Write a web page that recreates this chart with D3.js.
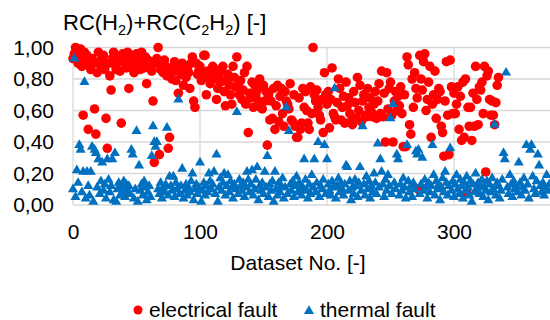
<!DOCTYPE html>
<html>
<head>
<meta charset="utf-8">
<script src="https://cdn.jsdelivr.net/npm/d3@7"></script>
<style>
  html, body { margin: 0; padding: 0; background: #fff; }
  svg { display: block; font-family: "Liberation Sans", Arial, sans-serif; }
</style>
</head>
<body>
<svg id="chart" width="550" height="320"></svg>
<script>
// RC(H2)+RC(C2H2) per dataset, electrical faults (index = dataset no.)
const electrical = [
  0.93, 0.96, 1.00, 0.98, 0.90, 0.94, 0.99, 0.88, 0.57, 0.97,
  0.92, 0.95, 0.48, 0.89, 0.86, 0.93, 0.90, 0.61, 0.45, 0.84,
  0.97, 0.91, 0.88, 0.94, 0.95, 0.86, 0.55, 0.36, 0.90, 0.82,
  0.73, 0.93, 0.97, 0.89, 0.86, 0.94, 0.91, 0.85, 0.52, 0.96,
  0.93, 0.90, 0.87, 0.97, 0.74, 0.92, 0.88, 0.95, 0.84, 0.91,
  0.96, 0.89, 0.93, 0.86, 0.97, 0.90, 0.87, 0.94, 0.77, 0.92,
  0.88, 0.91, 0.85, 0.66, 0.27, 0.90, 0.93, 1.00, 0.32, 0.86,
  0.89, 0.84, 0.92, 0.88, 0.82, 0.36, 0.43, 0.87, 0.80, 0.85,
  0.91, 0.79, 0.86, 0.71, 0.89, 0.83, 0.90, 0.76, 0.87, 0.81,
  0.86, 0.84, 0.74, 0.90, 0.94, 0.66, 0.62, 0.90, 0.83, 0.85,
  0.88, 0.79, 0.84, 0.95, 0.95, 0.70, 0.85, 0.81, 0.77, 0.83,
  0.88, 0.80, 0.86, 0.67, 0.74, 0.82, 0.78, 0.85, 0.88, 0.72,
  0.63, 0.79, 0.83, 0.76, 0.70, 0.64, 0.88, 0.81, 0.75, 0.94,
  0.75, 0.70, 0.79, 0.67, 0.73, 0.84, 0.64, 0.88, 0.46, 0.71,
  0.68, 0.78, 0.62, 0.76, 0.70, 0.73, 0.66, 0.80, 0.62, 0.61,
  0.76, 0.66, 0.72, 0.38, 0.70, 0.54, 0.66, 0.55, 0.74, 0.48,
  0.63, 0.76, 0.53, 0.69, 0.74, 0.58, 0.50, 0.72, 0.66, 0.64,
  0.61, 0.77, 0.54, 0.53, 0.70, 0.50, 0.43, 0.43, 0.68, 0.48,
  0.52, 0.74, 0.62, 0.72, 0.60, 0.52, 0.48, 0.75, 0.58, 1.00,
  0.70, 0.66, 0.73, 0.62, 0.57, 0.54, 0.67, 0.46, 0.84, 0.70,
  0.64, 0.72, 0.49, 0.67, 0.87, 0.58, 0.56, 0.54, 0.65, 0.80,
  0.74, 0.54, 0.62, 0.69, 0.52, 0.78, 0.63, 0.68, 0.58, 0.53,
  0.51, 0.72, 0.65, 0.55, 0.81, 0.60, 0.76, 0.53, 0.66, 0.70,
  0.57, 0.56, 0.74, 0.62, 0.68, 0.59, 0.56, 0.64, 0.72, 0.55,
  0.66, 0.77, 0.58, 0.85, 0.56, 0.71, 0.40, 0.84, 0.61, 0.74,
  0.78, 0.57, 0.40, 0.66, 0.72, 0.60, 0.69, 0.63, 0.75, 0.58,
  0.37, 0.70, 0.37, 0.94, 0.89, 0.51, 0.45, 0.80, 0.62, 0.84,
  0.74, 0.68, 0.10, 0.95, 0.80, 0.73, 0.91, 0.96, 0.60, 0.67,
  0.78, 0.88, 0.43, 0.64, 0.70, 0.85, 0.55, 0.67, 0.74, 0.72,
  0.50, 0.46, 0.31, 0.66, 0.91, 0.57, 0.32, 0.92, 0.75, 0.58,
  0.71, 0.58, 0.64, 0.75, 0.48, 0.69, 0.41, 0.78, 0.43, 0.80,
  0.08, 0.62, 0.50, 0.62, 0.41, 0.71, 0.50, 0.88, 0.67, 0.51,
  0.75, 0.73, 0.78, 0.58, 0.88, 0.21, 0.82, 0.85, 0.67, 0.57,
  0.66, 0.57, 0.51, 0.65, 0.76, 0.81
];

// thermal faults
const thermal = [
  0.10, 0.93, 0.05, 0.22, 0.14, 0.38, 0.35, 0.08, 0.21, 0.78,
  0.04, 0.21, 0.12, 0.06, 0.21, 0.37, 0.02, 0.35, 0.33, 0.11,
  0.29, 0.07, 0.15, 0.27, 0.09, 0.13, 0.04, 0.29, 0.16, 0.08,
  0.12, 0.29, 0.03, 0.33, 0.02, 0.10, 0.14, 0.06, 0.11, 0.08,
  0.15, 0.05, 0.13, 0.09, 0.12, 0.07, 0.35, 0.32, 0.04, 0.10,
  0.47, 0.02, 0.25, 0.09, 0.13, 0.06, 0.15, 0.11, 0.03, 0.08,
  0.12, 0.05, 0.31, 0.50, 0.40, 0.37, 0.40, 0.10, 0.07, 0.14,
  0.04, 0.11, 0.08, 0.13, 0.49, 0.06, 0.18, 0.12, 0.09, 0.18,
  0.05, 0.14, 0.10, 0.67, 0.07, 0.12, 0.23, 0.04, 0.09, 0.13,
  0.06, 0.11, 0.08, 0.15, 0.20, 0.03, 0.10, 0.13, 0.07, 0.11,
  0.27, 0.02, 0.09, 0.14, 0.06, 0.12, 0.08, 0.20, 0.15, 0.10,
  0.13, 0.21, 0.07, 0.32, 0.02, 0.11, 0.17, 0.09, 0.14, 0.20,
  0.06, 0.12, 0.19, 0.08, 0.15, 0.11, 0.04, 0.13, 0.10, 0.59,
  0.07, 0.16, 0.12, 0.09, 0.14, 0.05, 0.11, 0.21, 0.16, 0.08,
  0.13, 0.22, 0.06, 0.10, 0.16, 0.24, 0.03, 0.12, 0.09, 0.14,
  0.07, 0.21, 0.11, 0.31, 0.05, 0.13, 0.09, 0.15, 0.02, 0.21,
  0.10, 0.06, 0.14, 0.08, 0.12, 0.17, 0.04, 0.11, 0.62, 0.07,
  0.47, 0.13, 0.09, 0.15, 0.05, 0.12, 0.18, 0.08, 0.14, 0.10,
  0.06, 0.11, 0.29, 0.16, 0.09, 0.04, 0.13, 0.07, 0.19, 0.11,
  0.29, 0.08, 0.14, 0.40, 0.05, 0.12, 0.10, 0.16, 0.38, 0.07,
  0.29, 0.13, 0.09, 0.06, 0.15, 0.11, 0.74, 0.04, 0.12, 0.17,
  0.08, 0.14, 0.10, 0.06, 0.13, 0.25, 0.24, 0.09, 0.15, 0.03,
  0.11, 0.07, 0.16, 0.12, 0.05, 0.14, 0.24, 0.09, 0.50, 0.13,
  0.06, 0.18, 0.10, 0.15, 0.04, 0.12, 0.08, 0.20, 0.14, 0.07,
  0.39, 0.11, 0.29, 0.21, 0.13, 0.05, 0.16, 0.09, 0.19, 0.12,
  0.55, 0.07, 0.64, 0.14, 0.10, 0.32, 0.29, 0.06, 0.13, 0.09,
  0.17, 0.11, 0.04, 0.38, 0.15, 0.08, 0.12, 0.05, 0.14, 0.10,
  0.34, 0.32, 0.35, 0.07, 0.13, 0.30, 0.09, 0.16, 0.11, 0.04,
  0.14, 0.08, 0.12, 0.38, 0.19, 0.06, 0.15, 0.10, 0.13, 0.03,
  0.11, 0.17, 0.08, 0.21, 0.14, 0.06, 0.12, 0.36, 0.09, 0.15,
  0.05, 0.13, 0.19, 0.10, 0.07, 0.16, 0.12, 0.04, 0.14, 0.09,
  0.18, 0.11, 0.06, 0.15, 0.02, 0.13, 0.08, 0.20, 0.10, 0.14,
  0.07, 0.12, 0.16, 0.05, 0.11, 0.09, 0.15, 0.03, 0.13, 0.08,
  0.17, 0.10, 0.51, 0.06, 0.14, 0.12, 0.04, 0.09, 0.16, 0.33,
  0.29, 0.84, 0.11, 0.07, 0.19, 0.13, 0.05, 0.15, 0.10, 0.12,
  0.08, 0.27, 0.14, 0.06, 0.11, 0.17, 0.09, 0.38, 0.13, 0.04,
  0.35, 0.38, 0.18, 0.10, 0.07, 0.15, 0.32, 0.25, 0.12, 0.08,
  0.14, 0.06, 0.11, 0.19, 0.09, 0.13
];

const xTicks = [0, 100, 200, 300, 400];
const yTicks = [0, 0.2, 0.4, 0.6, 0.8, 1.0];
const seriesNames = ["electrical fault", "thermal fault"];
const seriesColors = ["#FF0000", "#0070C0"];

const svg = d3.select("#chart");
const W = 550, H = 320;
const grid = { top: 47.5, left: 73, bottom: 205 };

// plot runs off the right edge of the picture, so 400 sits outside
const x = d3.scaleLinear().domain([0, 400]).range([grid.left, grid.left + 508]);
const y = d3.scaleLinear().domain([0, 1]).range([grid.bottom, grid.top]);

const comma = d3.formatLocale({ decimal: ",", thousands: ".", grouping: [3], currency: ["", ""] }).format(".2f");

// gridlines
svg.append("g").selectAll("line.h")
  .data(yTicks).enter().append("line")
  .attr("x1", grid.left).attr("x2", W)
  .attr("y1", d => y(d)).attr("y2", d => y(d))
  .attr("stroke", "#D9D9D9").attr("stroke-width", 1.3);

svg.append("g").selectAll("line.v")
  .data(xTicks).enter().append("line")
  .attr("x1", d => x(d)).attr("x2", d => x(d))
  .attr("y1", grid.top).attr("y2", grid.bottom)
  .attr("stroke", "#D9D9D9").attr("stroke-width", 1.3);

// axes, only the labels are shown
const yAxis = d3.axisLeft(y).tickValues(yTicks).tickSize(0).tickPadding(19).tickFormat(comma);
svg.append("g")
  .attr("transform", `translate(${grid.left},0)`)
  .call(yAxis)
  .call(g => g.select(".domain").remove())
  .selectAll("text")
  .attr("font-size", 21).attr("fill", "#000").attr("font-family", "Liberation Sans, Arial, sans-serif");

const xAxis = d3.axisBottom(x).tickValues(xTicks.slice(0, 4)).tickSize(0).tickPadding(19);
svg.append("g")
  .attr("transform", `translate(0,${grid.bottom})`)
  .call(xAxis)
  .call(g => g.select(".domain").remove())
  .selectAll("text")
  .attr("font-size", 21).attr("fill", "#000").attr("font-family", "Liberation Sans, Arial, sans-serif");

// points
svg.append("g").selectAll("circle")
  .data(electrical).enter().append("circle")
  .attr("cx", (d, i) => x(i))
  .attr("cy", d => y(d))
  .attr("r", 4.8)
  .attr("fill", seriesColors[0]);

const tri = d3.symbol().type(d3.symbolTriangle).size(44);
svg.append("g").selectAll("path")
  .data(thermal).enter().append("path")
  .attr("d", tri)
  .attr("transform", (d, i) => `translate(${x(i)},${y(d)})`)
  .attr("fill", seriesColors[1]);

// title with subscripts
const title = svg.append("text")
  .attr("x", 63).attr("y", 30)
  .attr("font-size", 22).attr("fill", "#000");
const parts = [["RC(H", 0], ["2", 1], [")+RC(C", 0], ["2", 1], ["H", 0], ["2", 1], [") [-]", 0]];
let shifted = false;
parts.forEach(([t, sub]) => {
  const ts = title.append("tspan").text(t);
  if (sub) { ts.attr("font-size", 14.5).attr("dy", shifted ? 0 : 5); shifted = true; }
  else if (shifted) { ts.attr("dy", -5); shifted = false; }
});

svg.append("text")
  .attr("x", 298).attr("y", 270)
  .attr("text-anchor", "middle")
  .attr("font-size", 21).attr("fill", "#000")
  .text("Dataset No. [-]");

// legend
const legend = svg.append("g");
legend.append("circle").attr("cx", 138).attr("cy", 310).attr("r", 4.5).attr("fill", seriesColors[0]);
legend.append("text").attr("x", 149).attr("y", 316.5).attr("font-size", 21).text(seriesNames[0]);
legend.append("path").attr("d", tri).attr("transform", "translate(309,311)").attr("fill", seriesColors[1]);
legend.append("text").attr("x", 320).attr("y", 316.5).attr("font-size", 21).text(seriesNames[1]);
</script>
</body>
</html>
